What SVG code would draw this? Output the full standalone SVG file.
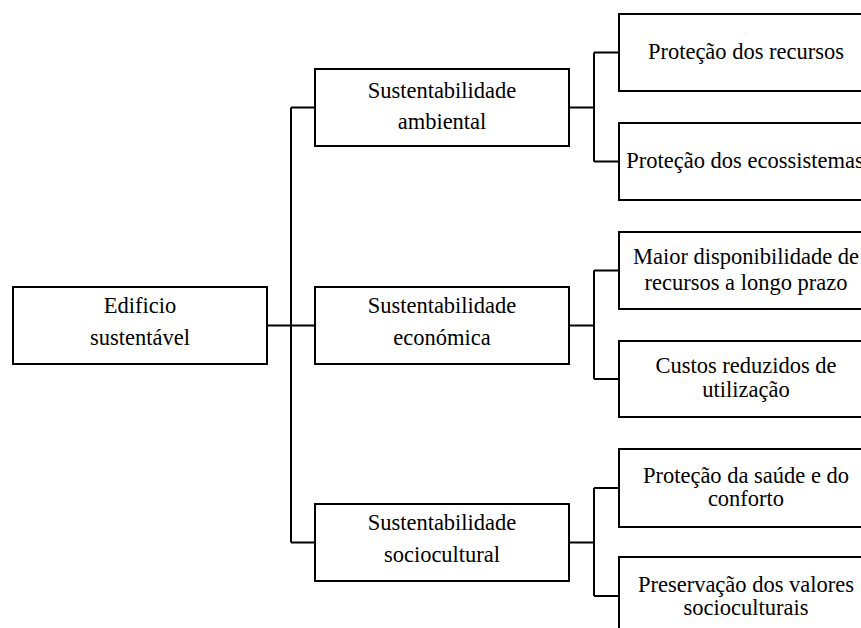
<svg xmlns="http://www.w3.org/2000/svg" width="861" height="628" viewBox="0 0 861 628">
<style>
.box{fill:#fff;stroke:#000;stroke-width:2}
.t{font-family:"Liberation Serif","Times New Roman",serif;font-size:22.5px;fill:#000;text-anchor:middle}
.c{fill:none;stroke:#000;stroke-width:2}
</style>
<rect width="861" height="628" fill="#fff"/>
<g id="connectors">
<path class="c" d="M267 325.5H315M291 107.5V542.5M291 107.5H315M291 542.5H315"/>
<path class="c" d="M569 107.5H594M594 52.5V161.5M594 52.5H619M594 161.5H619"/>
<path class="c" d="M569 325.5H594M594 270.5V379M594 270.5H619M594 379H619"/>
<path class="c" d="M569 542.5H594M594 488V596M594 488H619M594 596H619"/>
</g>
<g id="root">
<rect class="box" x="13" y="287" width="254" height="77"/>
<text class="t" x="140" y="313">Edificio</text>
<text class="t" x="140" y="345">sustentável</text>
</g>
<g id="ambiental">
<rect class="box" x="315" y="69" width="254" height="77"/>
<text class="t" x="442" y="97.5">Sustentabilidade</text>
<text class="t" x="442" y="129">ambiental</text>
</g>
<g id="economica">
<rect class="box" x="315" y="287" width="254" height="77"/>
<text class="t" x="442" y="313">Sustentabilidade</text>
<text class="t" x="442" y="345">económica</text>
</g>
<g id="sociocultural">
<rect class="box" x="315" y="504" width="254" height="77"/>
<text class="t" x="442" y="530">Sustentabilidade</text>
<text class="t" x="442" y="562">sociocultural</text>
</g>
<g id="recursos">
<rect class="box" x="619" y="14" width="254" height="77"/>
<text class="t" x="746" y="59">Proteção dos recursos</text>
</g>
<g id="ecossistemas">
<rect class="box" x="619" y="123" width="254" height="77"/>
<text class="t" x="745" y="168">Proteção dos ecossistemas</text>
</g>
<g id="disponibilidade">
<rect class="box" x="619" y="232" width="254" height="77"/>
<text class="t" x="746" y="264">Maior disponibilidade de</text>
<text class="t" x="746" y="290">recursos a longo prazo</text>
</g>
<g id="custos">
<rect class="box" x="619" y="341" width="254" height="76"/>
<text class="t" x="746" y="373">Custos reduzidos de</text>
<text class="t" x="746" y="397">utilização</text>
</g>
<g id="saude">
<rect class="box" x="619" y="449" width="254" height="78"/>
<text class="t" x="746" y="483">Proteção da saúde e do</text>
<text class="t" x="746" y="506">conforto</text>
</g>
<g id="valores">
<rect class="box" x="619" y="557" width="254" height="78"/>
<text class="t" x="746" y="592">Preservação dos valores</text>
<text class="t" x="746" y="615">socioculturais</text>
</g>
</svg>
